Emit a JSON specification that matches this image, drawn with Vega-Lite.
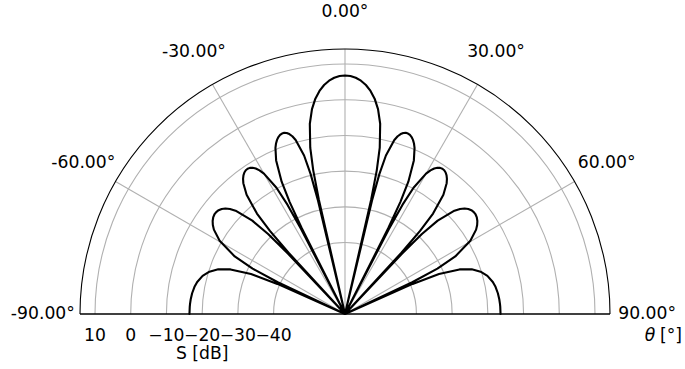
{
  "$schema": "https://vega.github.io/schema/vega-lite/v6.json",
  "width": 550,
  "height": 275,
  "autosize": {"type": "none"},
  "padding": {"left": 70, "top": 39, "right": 65, "bottom": 55},
  "background": "white",
  "config": {"view": {"stroke": null}, "font": "DejaVu Sans"},
  "datasets": {
    "pattern": [
      {"t": -90, "s": -16.448}, {"t": -87.2685, "s": -16.483}, {"t": -86.1365, "s": -16.521}, {"t": -84.5351, "s": -16.604},
      {"t": -82.2685, "s": -16.802}, {"t": -79.7662, "s": -17.176}, {"t": -77.7613, "s": -17.652}, {"t": -74.9963, "s": -18.721},
      {"t": -72.6585, "s": -20.228}, {"t": -70.5929, "s": -22.363}, {"t": -68.72, "s": -25.599}, {"t": -66.9926, "s": -31.402},
      {"t": -66.0129, "s": -39.267}, {"t": -65.3706, "s": -60}, {"t": -64.7621, "s": -39.181}, {"t": -63.8608, "s": -31.185},
      {"t": -62.4198, "s": -25.164}, {"t": -59.7273, "s": -19.359}, {"t": -57.2362, "s": -16.347}, {"t": -56.052, "s": -15.392},
      {"t": -54.9032, "s": -14.705}, {"t": -53.7862, "s": -14.256}, {"t": -52.6983, "s": -14.024}, {"t": -51.6367, "s": -14.007},
      {"t": -50.5995, "s": -14.209}, {"t": -49.5846, "s": -14.647}, {"t": -48.5904, "s": -15.353}, {"t": -47.6154, "s": -16.391},
      {"t": -46.6582, "s": -17.866}, {"t": -44.7929, "s": -23.17}, {"t": -43.8825, "s": -28.939}, {"t": -43.343, "s": -36.783},
      {"t": -42.9859, "s": -60}, {"t": -42.6309, "s": -36.668}, {"t": -42.1021, "s": -28.65}, {"t": -41.2306, "s": -22.591},
      {"t": -39.5212, "s": -16.706}, {"t": -37.8529, "s": -13.61}, {"t": -37.0329, "s": -12.611}, {"t": -36.2215, "s": -11.879},
      {"t": -35.4186, "s": -11.382}, {"t": -34.6235, "s": -11.102}, {"t": -33.836, "s": -11.034}, {"t": -33.0557, "s": -11.183},
      {"t": -32.2823, "s": -11.567}, {"t": -31.5154, "s": -12.218}, {"t": -30.7547, "s": -13.197}, {"t": -30, "s": -14.612},
      {"t": -28.5074, "s": -19.788}, {"t": -27.769, "s": -25.488}, {"t": -27.3284, "s": -33.29}, {"t": -27.0357, "s": -60},
      {"t": -26.7437, "s": -33.116}, {"t": -26.3071, "s": -25.054}, {"t": -25.583, "s": -18.918}, {"t": -24.1478, "s": -12.869},
      {"t": -22.7284, "s": -9.592}, {"t": -22.0243, "s": -8.496}, {"t": -21.3237, "s": -7.662}, {"t": -20.6264, "s": -7.058},
      {"t": -19.9322, "s": -6.665}, {"t": -19.2412, "s": -6.478}, {"t": -18.553, "s": -6.502}, {"t": -17.8676, "s": -6.753},
      {"t": -17.1848, "s": -7.262}, {"t": -16.5045, "s": -8.091}, {"t": -15.8266, "s": -9.347}, {"t": -14.4775, "s": -14.171},
      {"t": -13.8061, "s": -19.677}, {"t": -13.4041, "s": -27.355}, {"t": -13.1366, "s": -60}, {"t": -12.8693, "s": -27.008},
      {"t": -12.4688, "s": -18.807}, {"t": -11.8029, "s": -12.428}, {"t": -10.4757, "s": -5.825}, {"t": -9.1541, "s": -1.885},
      {"t": -7.8375, "s": 0.858}, {"t": -6.525, "s": 2.878}, {"t": -5.2159, "s": 4.38}, {"t": -3.9096, "s": 5.475},
      {"t": -2.6053, "s": 6.216}, {"t": -1.3023, "s": 6.657},
      {"t": 0, "s": 6.8},
      {"t": 1.3023, "s": 6.657}, {"t": 2.6053, "s": 6.216}, {"t": 3.9096, "s": 5.475}, {"t": 5.2159, "s": 4.38},
      {"t": 6.525, "s": 2.878}, {"t": 7.8375, "s": 0.858}, {"t": 9.1541, "s": -1.885}, {"t": 10.4757, "s": -5.825},
      {"t": 11.8029, "s": -12.428}, {"t": 12.4688, "s": -18.807}, {"t": 12.8693, "s": -27.008}, {"t": 13.1366, "s": -60},
      {"t": 13.4041, "s": -27.355}, {"t": 13.8061, "s": -19.677}, {"t": 14.4775, "s": -14.171}, {"t": 15.8266, "s": -9.347},
      {"t": 16.5045, "s": -8.091}, {"t": 17.1848, "s": -7.262}, {"t": 17.8676, "s": -6.753}, {"t": 18.553, "s": -6.502},
      {"t": 19.2412, "s": -6.478}, {"t": 19.9322, "s": -6.665}, {"t": 20.6264, "s": -7.058}, {"t": 21.3237, "s": -7.662},
      {"t": 22.0243, "s": -8.496}, {"t": 22.7284, "s": -9.592}, {"t": 24.1478, "s": -12.869}, {"t": 25.583, "s": -18.918},
      {"t": 26.3071, "s": -25.054}, {"t": 26.7437, "s": -33.116}, {"t": 27.0357, "s": -60}, {"t": 27.3284, "s": -33.29},
      {"t": 27.769, "s": -25.488}, {"t": 28.5074, "s": -19.788}, {"t": 30, "s": -14.612}, {"t": 30.7547, "s": -13.197},
      {"t": 31.5154, "s": -12.218}, {"t": 32.2823, "s": -11.567}, {"t": 33.0557, "s": -11.183}, {"t": 33.836, "s": -11.034},
      {"t": 34.6235, "s": -11.102}, {"t": 35.4186, "s": -11.382}, {"t": 36.2215, "s": -11.879}, {"t": 37.0329, "s": -12.611},
      {"t": 37.8529, "s": -13.61}, {"t": 39.5212, "s": -16.706}, {"t": 41.2306, "s": -22.591}, {"t": 42.1021, "s": -28.65},
      {"t": 42.6309, "s": -36.668}, {"t": 42.9859, "s": -60}, {"t": 43.343, "s": -36.783}, {"t": 43.8825, "s": -28.939},
      {"t": 44.7929, "s": -23.17}, {"t": 46.6582, "s": -17.866}, {"t": 47.6154, "s": -16.391}, {"t": 48.5904, "s": -15.353},
      {"t": 49.5846, "s": -14.647}, {"t": 50.5995, "s": -14.209}, {"t": 51.6367, "s": -14.007}, {"t": 52.6983, "s": -14.024},
      {"t": 53.7862, "s": -14.256}, {"t": 54.9032, "s": -14.705}, {"t": 56.052, "s": -15.392}, {"t": 57.2362, "s": -16.347},
      {"t": 59.7273, "s": -19.359}, {"t": 62.4198, "s": -25.164}, {"t": 63.8608, "s": -31.185}, {"t": 64.7621, "s": -39.181},
      {"t": 65.3706, "s": -60}, {"t": 66.0129, "s": -39.267}, {"t": 66.9926, "s": -31.402}, {"t": 68.72, "s": -25.599},
      {"t": 70.5929, "s": -22.363}, {"t": 72.6585, "s": -20.228}, {"t": 74.9963, "s": -18.721}, {"t": 77.7613, "s": -17.652},
      {"t": 79.7662, "s": -17.176}, {"t": 82.2685, "s": -16.802}, {"t": 84.5351, "s": -16.604}, {"t": 86.1365, "s": -16.521},
      {"t": 87.2685, "s": -16.483}, {"t": 90, "s": -16.448}
    ],
    "rings": [{"g": -40}, {"g": -30}, {"g": -20}, {"g": -10}, {"g": 0}, {"g": 10}],
    "outer": [{"g": 14.2}],
    "spokes": [{"a": -60}, {"a": -30}, {"a": 0}, {"a": 30}, {"a": 60}],
    "base": [{"a": -90}, {"a": 90}],
    "thetaLabels": [
      {"a": -90, "label": "-90.00°"}, {"a": -60, "label": "-60.00°"}, {"a": -30, "label": "-30.00°"},
      {"a": 0, "label": "0.00°"}, {"a": 30, "label": "30.00°"}, {"a": 60, "label": "60.00°"}, {"a": 90, "label": "90.00°"}
    ],
    "rLabels": [
      {"v": 10, "label": "10"}, {"v": 0, "label": "0"}, {"v": -10, "label": "−10"},
      {"v": -20, "label": "−20"}, {"v": -30, "label": "−30"}, {"v": -40, "label": "−40"}
    ]
  },
  "layer": [
    {
      "data": {"name": "rings"},
      "transform": [
        {"calculate": "datum.g + 60", "as": "r"},
        {"calculate": "0", "as": "cx"},
        {"calculate": "0", "as": "cy"}
      ],
      "mark": {"type": "point", "shape": "circle", "filled": false, "stroke": "#b0b0b0", "strokeWidth": 1.1, "opacity": 1, "clip": true},
      "encoding": {
        "x": {"field": "cx", "type": "quantitative", "scale": {"domain": [-77, 77], "nice": false, "zero": false}, "axis": null},
        "y": {"field": "cy", "type": "quantitative", "scale": {"domain": [0, 77], "nice": false, "zero": false}, "axis": null},
        "size": {"field": "r", "type": "quantitative", "scale": {"type": "pow", "exponent": 2, "domain": [0, 77], "range": [0, 302500], "zero": true, "nice": false}, "legend": null}
      }
    },
    {
      "data": {"name": "spokes"},
      "transform": [
        {"calculate": "0", "as": "cx"},
        {"calculate": "0", "as": "cy"},
        {"calculate": "74.2 * sin(datum.a * PI / 180)", "as": "ex"},
        {"calculate": "74.2 * cos(datum.a * PI / 180)", "as": "ey"}
      ],
      "mark": {"type": "rule", "stroke": "#b0b0b0", "strokeWidth": 1.1},
      "encoding": {
        "x": {"field": "cx", "type": "quantitative", "scale": {"domain": [-77, 77], "nice": false, "zero": false}, "axis": null},
        "y": {"field": "cy", "type": "quantitative", "scale": {"domain": [0, 77], "nice": false, "zero": false}, "axis": null},
        "x2": {"field": "ex"},
        "y2": {"field": "ey"}
      }
    },
    {
      "data": {"name": "pattern"},
      "transform": [
        {"calculate": "max(datum.s + 60, 0)", "as": "r"},
        {"calculate": "datum.r * sin(datum.t * PI / 180)", "as": "px"},
        {"calculate": "datum.r * cos(datum.t * PI / 180)", "as": "py"}
      ],
      "mark": {"type": "line", "color": "black", "strokeWidth": 2.1, "strokeJoin": "round", "strokeCap": "round"},
      "encoding": {
        "x": {"field": "px", "type": "quantitative", "scale": {"domain": [-77, 77], "nice": false, "zero": false}, "axis": null},
        "y": {"field": "py", "type": "quantitative", "scale": {"domain": [0, 77], "nice": false, "zero": false}, "axis": null},
        "order": {"field": "t", "type": "quantitative"}
      }
    },
    {
      "data": {"name": "outer"},
      "transform": [
        {"calculate": "datum.g + 60", "as": "r"},
        {"calculate": "0", "as": "cx"},
        {"calculate": "0", "as": "cy"}
      ],
      "mark": {"type": "point", "shape": "circle", "filled": false, "stroke": "black", "strokeWidth": 1.1, "opacity": 1, "clip": true},
      "encoding": {
        "x": {"field": "cx", "type": "quantitative", "scale": {"domain": [-77, 77], "nice": false, "zero": false}, "axis": null},
        "y": {"field": "cy", "type": "quantitative", "scale": {"domain": [0, 77], "nice": false, "zero": false}, "axis": null},
        "size": {"field": "r", "type": "quantitative", "scale": {"type": "pow", "exponent": 2, "domain": [0, 77], "range": [0, 302500], "zero": true, "nice": false}, "legend": null}
      }
    },
    {
      "data": {"name": "base"},
      "transform": [
        {"calculate": "0", "as": "cx"},
        {"calculate": "0", "as": "cy"},
        {"calculate": "74.2 * sin(datum.a * PI / 180)", "as": "ex"},
        {"calculate": "74.2 * cos(datum.a * PI / 180)", "as": "ey"}
      ],
      "mark": {"type": "rule", "stroke": "black", "strokeWidth": 1.3},
      "encoding": {
        "x": {"field": "cx", "type": "quantitative", "scale": {"domain": [-77, 77], "nice": false, "zero": false}, "axis": null},
        "y": {"field": "cy", "type": "quantitative", "scale": {"domain": [0, 77], "nice": false, "zero": false}, "axis": null},
        "x2": {"field": "ex"},
        "y2": {"field": "ey"}
      }
    },
    {
      "data": {"name": "thetaLabels"},
      "transform": [
        {"calculate": "84.6 * sin(datum.a * PI / 180)", "as": "lx"},
        {"calculate": "84.6 * cos(datum.a * PI / 180)", "as": "ly"}
      ],
      "mark": {"type": "text", "fontSize": 17.2, "align": "center", "baseline": "middle", "color": "black", "font": "DejaVu Sans"},
      "encoding": {
        "x": {"field": "lx", "type": "quantitative", "scale": {"domain": [-77, 77], "nice": false, "zero": false}, "axis": null},
        "y": {"field": "ly", "type": "quantitative", "scale": {"domain": [0, 77], "nice": false, "zero": false}, "axis": null},
        "text": {"field": "label", "type": "nominal"}
      }
    },
    {
      "data": {"name": "rLabels"},
      "transform": [
        {"calculate": "-(datum.v + 60)", "as": "lx"},
        {"calculate": "0", "as": "ly"}
      ],
      "mark": {"type": "text", "fontSize": 17.2, "align": "center", "baseline": "middle", "dy": 21.5, "color": "black", "font": "DejaVu Sans"},
      "encoding": {
        "x": {"field": "lx", "type": "quantitative", "scale": {"domain": [-77, 77], "nice": false, "zero": false}, "axis": null},
        "y": {"field": "ly", "type": "quantitative", "scale": {"domain": [0, 77], "nice": false, "zero": false}, "axis": null},
        "text": {"field": "label", "type": "nominal"}
      }
    },
    {
      "data": {"values": [{"label": "S [dB]", "lx": -40, "ly": 0}]},
      "mark": {"type": "text", "fontSize": 17.2, "align": "center", "baseline": "middle", "dy": 40, "color": "black", "font": "DejaVu Sans"},
      "encoding": {
        "x": {"field": "lx", "type": "quantitative", "scale": {"domain": [-77, 77], "nice": false, "zero": false}, "axis": null},
        "y": {"field": "ly", "type": "quantitative", "scale": {"domain": [0, 77], "nice": false, "zero": false}, "axis": null},
        "text": {"field": "label", "type": "nominal"}
      }
    },
    {
      "data": {"values": [{"label": "θ", "lx": 85.4, "ly": 0}]},
      "mark": {"type": "text", "fontSize": 17.2, "align": "center", "baseline": "middle", "dy": 22, "fontStyle": "italic", "color": "black", "font": "DejaVu Sans"},
      "encoding": {
        "x": {"field": "lx", "type": "quantitative", "scale": {"domain": [-77, 77], "nice": false, "zero": false}, "axis": null},
        "y": {"field": "ly", "type": "quantitative", "scale": {"domain": [0, 77], "nice": false, "zero": false}, "axis": null},
        "text": {"field": "label", "type": "nominal"}
      }
    },
    {
      "data": {"values": [{"label": "[°]", "lx": 91.3, "ly": 0}]},
      "mark": {"type": "text", "fontSize": 17.2, "align": "center", "baseline": "middle", "dy": 22, "color": "black", "font": "DejaVu Sans"},
      "encoding": {
        "x": {"field": "lx", "type": "quantitative", "scale": {"domain": [-77, 77], "nice": false, "zero": false}, "axis": null},
        "y": {"field": "ly", "type": "quantitative", "scale": {"domain": [0, 77], "nice": false, "zero": false}, "axis": null},
        "text": {"field": "label", "type": "nominal"}
      }
    }
  ]
}
